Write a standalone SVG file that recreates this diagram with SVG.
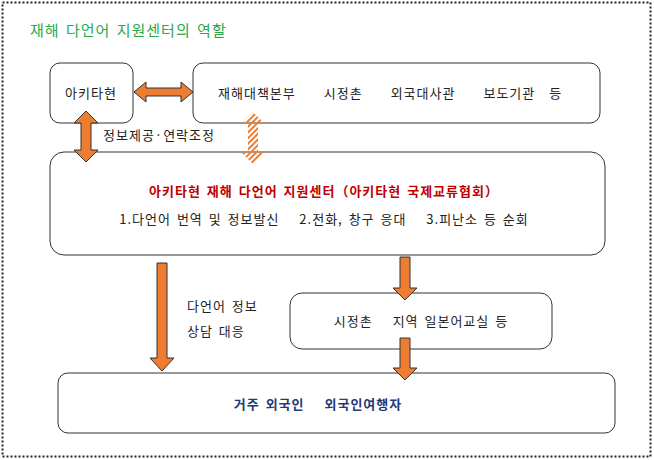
<svg xmlns="http://www.w3.org/2000/svg" width="654" height="460" viewBox="0 0 654 460">
<style>
text{font-family:"Noto Sans CJK KR",sans-serif;font-size:13px;fill:#222;letter-spacing:1px;word-spacing:2px}
.box{fill:#fff;stroke:#333;stroke-width:1}
.arr{fill:#ed7d31;stroke:#333;stroke-width:1}
</style>
<defs>
<pattern id="st" width="4" height="4" patternUnits="userSpaceOnUse" patternTransform="rotate(45)">
<rect width="2" height="4" fill="#ed7d31"/></pattern>
</defs>
<rect x="0" y="0" width="654" height="460" fill="#fff"/>
<rect x="2.5" y="2.5" width="648" height="454" fill="none" stroke="#222" stroke-width="2" stroke-dasharray="2,2"/>
<text x="30" y="36" style="fill:#2aa84a;font-size:15px">재해 다언어 지원센터의 역할</text>
<g id="akita"><rect class="box" x="50" y="63" width="83" height="60" rx="10"/><text x="91" y="98" text-anchor="middle">아키타현</text></g>
<g id="orgs"><rect class="box" x="193" y="63" width="407" height="60" rx="10"/><text x="218" y="98">재해대책본부　　시정촌　　외국대사관　　보도기관　등</text></g>
<g id="center"><rect class="box" x="50" y="152" width="555" height="103" rx="14"/>
<text x="324" y="196" text-anchor="middle" style="fill:#c00000;font-weight:bold">아키타현 재해 다언어 지원센터（아키타현 국제교류협회）</text>
<text x="324" y="224" text-anchor="middle">1.다언어 번역 및 정보발신　 2.전화, 창구 응대　 3.피난소 등 순회</text></g>
<g id="local"><rect class="box" x="290" y="293" width="262" height="56" rx="12"/><text x="421" y="326" text-anchor="middle">시정촌　 지역 일본어교실 등</text></g>
<g id="residents"><rect class="box" x="58" y="373" width="557" height="60" rx="10"/><text x="318" y="409" text-anchor="middle" style="fill:#1f3a7a;font-weight:bold">거주 외국인　 외국인여행자</text></g>
<g id="connectors">
<polygon class="arr" points="134,92 146,82 146,88 181,88 181,82 193,92 181,102 181,96 146,96 146,102"/>
<polygon class="arr" points="86,111 98,123 91,123 91,150 98,150 86,162 74,150 81,150 81,123 74,123"/>
<polygon points="253,112 265,124 258,124 258,152 265,152 253,164 241,152 248,152 248,124 241,124" fill="url(#st)"/>
<polygon class="arr" points="157,263 167,263 167,358 174,358 162,371 150,358 157,358"/>
<polygon class="arr" points="400,257 410,257 410,288 417,288 405,300 393,288 400,288"/>
<polygon class="arr" points="400,338 410,338 410,368 417,368 405,380 393,368 400,368"/>
</g>
<text x="103" y="140">정보제공·연락조정</text>
<text x="187" y="311">다언어 정보</text>
<text x="187" y="336">상담 대응</text>
</svg>
